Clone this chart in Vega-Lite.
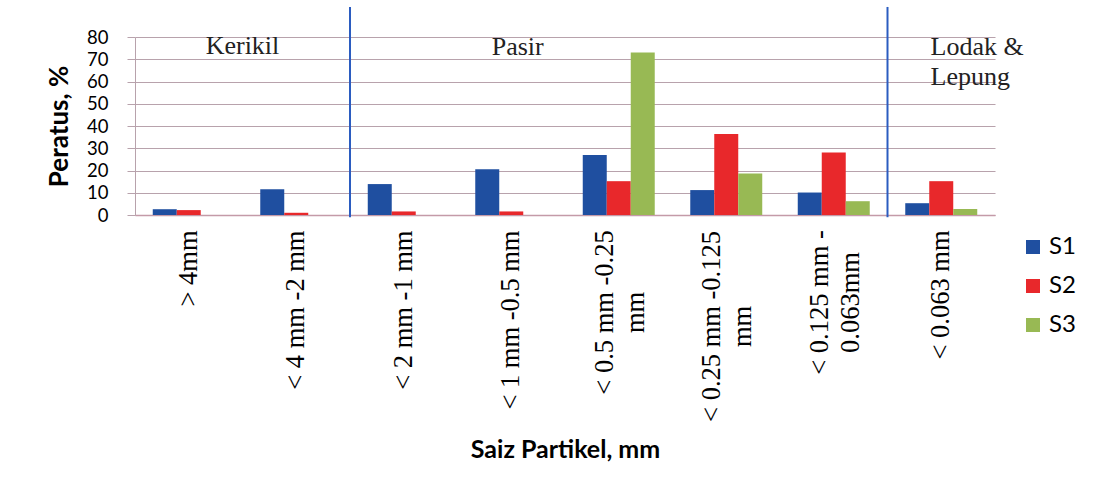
{
  "$schema": "https://vega.github.io/schema/vega-lite/v6.json",
  "width": 860,
  "height": 178,
  "autosize": {"type": "none"},
  "padding": {"left": 135, "top": 37, "right": 107, "bottom": 279},
  "background": "white",
  "config": {"view": {"stroke": null}},
  "datasets": {
    "bars": [
      {"cat": "> 4mm", "series": "S1", "value": 2.6},
      {"cat": "> 4mm", "series": "S2", "value": 2.2},
      {"cat": "> 4mm", "series": "S3", "value": 0},
      {"cat": "< 4 mm -2 mm", "series": "S1", "value": 11.6},
      {"cat": "< 4 mm -2 mm", "series": "S2", "value": 1.0},
      {"cat": "< 4 mm -2 mm", "series": "S3", "value": 0},
      {"cat": "< 2 mm -1 mm", "series": "S1", "value": 13.9},
      {"cat": "< 2 mm -1 mm", "series": "S2", "value": 1.6},
      {"cat": "< 2 mm -1 mm", "series": "S3", "value": 0},
      {"cat": "< 1 mm -0.5 mm", "series": "S1", "value": 20.6},
      {"cat": "< 1 mm -0.5 mm", "series": "S2", "value": 1.6},
      {"cat": "< 1 mm -0.5 mm", "series": "S3", "value": 0},
      {"cat": "< 0.5 mm -0.25 mm", "series": "S1", "value": 27.0},
      {"cat": "< 0.5 mm -0.25 mm", "series": "S2", "value": 15.2},
      {"cat": "< 0.5 mm -0.25 mm", "series": "S3", "value": 73.0},
      {"cat": "< 0.25 mm -0.125 mm", "series": "S1", "value": 11.2},
      {"cat": "< 0.25 mm -0.125 mm", "series": "S2", "value": 36.4},
      {"cat": "< 0.25 mm -0.125 mm", "series": "S3", "value": 18.6},
      {"cat": "< 0.125 mm - 0.063mm", "series": "S1", "value": 10.1},
      {"cat": "< 0.125 mm - 0.063mm", "series": "S2", "value": 28.1},
      {"cat": "< 0.125 mm - 0.063mm", "series": "S3", "value": 6.2},
      {"cat": "< 0.063 mm", "series": "S1", "value": 5.3},
      {"cat": "< 0.063 mm", "series": "S2", "value": 15.2},
      {"cat": "< 0.063 mm", "series": "S3", "value": 2.7}
    ],
    "dividers": [
      {"cat": "< 2 mm -1 mm", "value": -1, "value2": 93.5},
      {"cat": "< 0.063 mm", "value": -1, "value2": 93.5}
    ],
    "notes": [
      {"cat": "> 4mm", "grp": "k", "label": "Kerikil", "value": 72.2},
      {"cat": "< 1 mm -0.5 mm", "grp": "p", "label": "Pasir", "value": 71.8},
      {"cat": "< 0.063 mm", "grp": "l", "label": "Lodak &", "value": 72.0},
      {"cat": "< 0.063 mm", "grp": "l", "label": "Lepung", "value": 58.6}
    ]
  },
  "encoding": {
    "y": {
      "field": "value",
      "type": "quantitative",
      "title": "Peratus, %",
      "scale": {"domain": [0, 80], "nice": false},
      "axis": {
        "values": [0, 10, 20, 30, 40, 50, 60, 70, 80],
        "labelOverlap": false,
        "grid": true,
        "gridColor": "#b8a2ac",
        "gridWidth": 1.2,
        "domainColor": "#b8a2ac",
        "tickColor": "#b8a2ac",
        "tickSize": 8,
        "labelFont": "Lato",
        "labelFontSize": 18.5,
        "labelColor": "black",
        "labelPadding": 19,
        "titleFont": "Lato",
        "titleFontSize": 26,
        "titleFontWeight": "bold",
        "titleColor": "black",
        "titlePadding": 14
      }
    }
  },
  "layer": [
    {
      "data": {"name": "bars"},
      "mark": {"type": "bar"},
      "encoding": {
        "x": {
          "field": "cat",
          "type": "nominal",
          "title": "Saiz Partikel, mm",
          "scale": {
            "domain": ["> 4mm", "< 4 mm -2 mm", "< 2 mm -1 mm", "< 1 mm -0.5 mm", "< 0.5 mm -0.25 mm", "< 0.25 mm -0.125 mm", "< 0.125 mm - 0.063mm", "< 0.063 mm"],
            "paddingInner": 0,
            "paddingOuter": 0
          },
          "axis": {
            "labelAngle": -90,
            "labelAlign": {"condition": {"test": "indexof(datum.value, '0.25') >= 0 || indexof(datum.value, '0.125') >= 0", "value": "center"}, "value": "right"},
            "labelBaseline": "middle",
            "labelFont": "Liberation Serif",
            "labelFontSize": 26.5,
            "labelColor": "black",
            "labelLineHeight": 31,
            "labelPadding": {"condition": [
              {"test": "datum.value == '< 0.5 mm -0.25 mm'", "value": 97},
              {"test": "datum.value == '< 0.25 mm -0.125 mm'", "value": 111},
              {"test": "datum.value == '< 0.125 mm - 0.063mm'", "value": 87}
            ], "value": 15},
            "labelOffset": {"condition": {"test": "indexof(datum.value, '0.25') >= 0 || indexof(datum.value, '0.125') >= 0", "value": -14}, "value": 0},
            "labelLimit": 400,
            "labelExpr": "datum.value == '< 0.5 mm -0.25 mm' ? ['< 0.5 mm -0.25', 'mm'] : datum.value == '< 0.25 mm -0.125 mm' ? ['< 0.25 mm -0.125', 'mm'] : datum.value == '< 0.125 mm - 0.063mm' ? ['< 0.125 mm -', '0.063mm'] : datum.value",
            "ticks": false,
            "domainColor": "#c49aa8",
            "domainWidth": 1.5,
            "grid": false,
            "titleFont": "Lato",
            "titleFontSize": 25,
            "titleFontWeight": "bold",
            "titleColor": "black",
            "titlePadding": 22
          }
        },
        "xOffset": {
          "field": "series",
          "type": "nominal",
          "scale": {"domain": ["S1", "S2", "S3"], "paddingInner": 0, "paddingOuter": 0.74}
        },
        "color": {
          "field": "series",
          "type": "nominal",
          "scale": {"domain": ["S1", "S2", "S3"], "range": ["#1f4fa0", "#e8282b", "#98b954"]},
          "legend": {
            "orient": "none",
            "legendX": 886,
            "legendY": 198,
            "title": null,
            "symbolType": "square",
            "symbolSize": 196,
            "symbolStrokeWidth": 0,
            "labelFont": "Lato",
            "labelFontSize": 24,
            "labelColor": "black",
            "labelOffset": 4,
            "rowPadding": 15
          }
        }
      }
    },
    {
      "data": {"name": "dividers"},
      "mark": {"type": "rule", "color": "#2b5cc0", "strokeWidth": 2, "clip": false},
      "encoding": {
        "x": {"field": "cat", "type": "nominal", "bandPosition": 0},
        "y2": {"field": "value2"}
      }
    },
    {
      "data": {"name": "notes"},
      "transform": [{"filter": "datum.grp == 'k'"}],
      "mark": {"type": "text", "font": "Liberation Serif", "fontSize": 26, "baseline": "alphabetic", "align": "center", "color": "#222222"},
      "encoding": {
        "x": {"field": "cat", "type": "nominal", "bandPosition": 1},
        "text": {"field": "label"}
      }
    },
    {
      "data": {"name": "notes"},
      "transform": [{"filter": "datum.grp == 'p'"}],
      "mark": {"type": "text", "font": "Liberation Serif", "fontSize": 26, "baseline": "alphabetic", "align": "center", "color": "#222222"},
      "encoding": {
        "x": {"field": "cat", "type": "nominal", "bandPosition": 0.56},
        "text": {"field": "label"}
      }
    },
    {
      "data": {"name": "notes"},
      "transform": [{"filter": "datum.grp == 'l'"}],
      "mark": {"type": "text", "font": "Liberation Serif", "fontSize": 26, "baseline": "alphabetic", "align": "left", "color": "#222222"},
      "encoding": {
        "x": {"field": "cat", "type": "nominal", "bandPosition": 0.4},
        "text": {"field": "label"}
      }
    }
  ]
}
